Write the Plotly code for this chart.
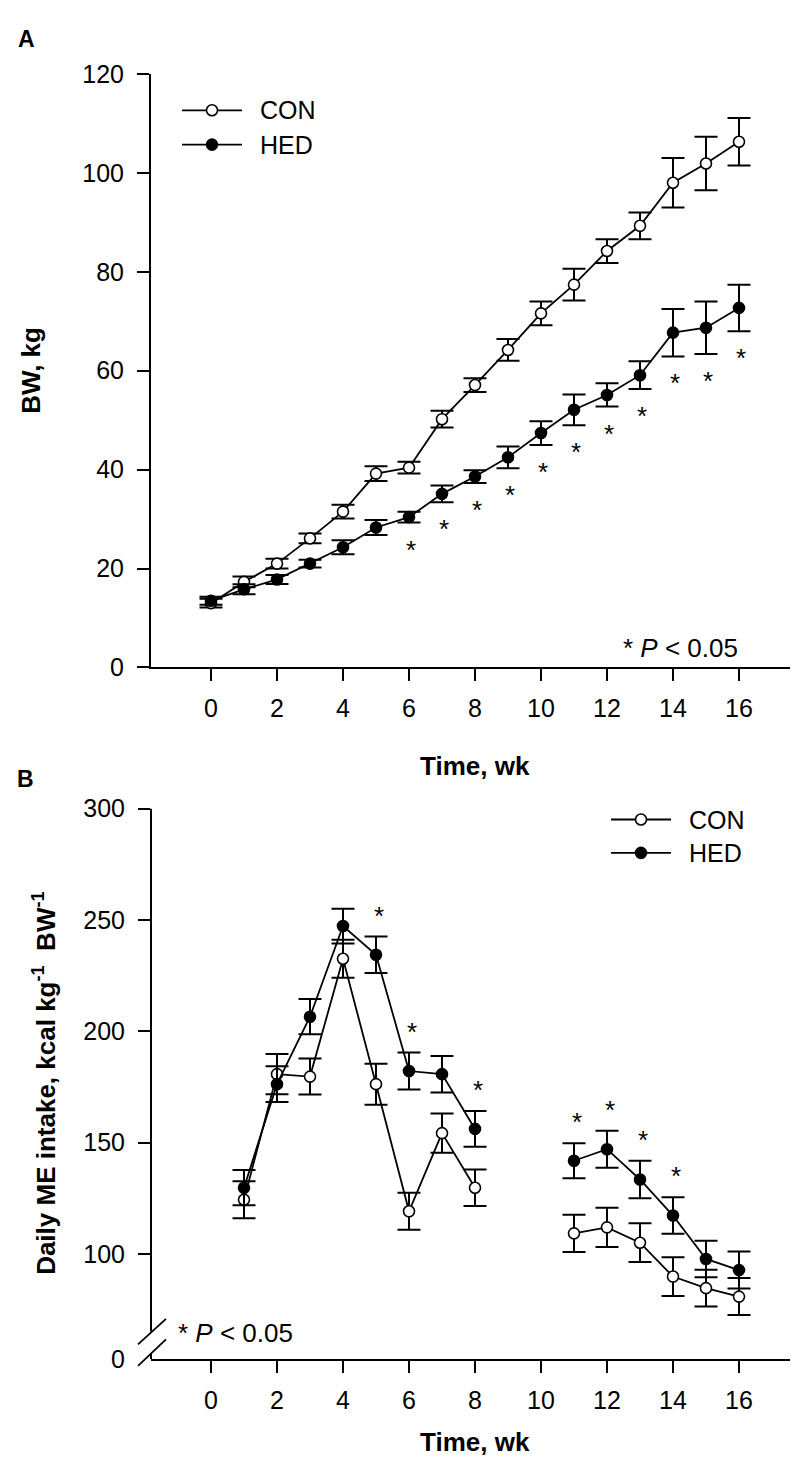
import plotly.graph_objects as go

W, H = 798, 1469
FONT = "Liberation Sans, Arial, sans-serif"

# ---------------- data: panel A (body weight, kg) ----------------
weeks_a = list(range(0, 17))
con_bw = [13.0, 17.3, 21.0, 26.1, 31.5, 39.2, 40.4, 50.2, 57.1, 64.2, 71.6, 77.4, 84.2, 89.3, 98.0, 101.9, 106.3]
con_bw_se = [0.9, 1.1, 1.0, 1.0, 1.4, 1.5, 1.2, 1.7, 1.4, 2.2, 2.4, 3.2, 2.4, 2.7, 5.0, 5.4, 4.8]
hed_bw = [13.5, 15.8, 17.8, 21.0, 24.3, 28.3, 30.4, 35.1, 38.6, 42.5, 47.4, 52.1, 55.1, 59.1, 67.7, 68.7, 72.7]
hed_bw_se = [0.8, 1.0, 0.9, 0.8, 1.4, 1.5, 1.1, 1.7, 1.3, 2.2, 2.4, 3.1, 2.35, 2.8, 4.8, 5.3, 4.7]
sig_weeks_a = [6, 7, 8, 9, 10, 11, 12, 13, 14, 15, 16]

# ---------------- data: panel B (daily ME intake) ----------------
weeks_b = list(range(1, 17))
con_me = [124.4, 180.8, 179.7, 232.6, 176.3, 119.2, 154.3, 129.8, None, None, 109.3, 112.0, 105.1, 89.9, 84.7, 80.9]
con_me_se = [8.3, 9.0, 8.1, 8.5, 9.2, 8.3, 8.8, 8.2, None, None, 8.4, 8.8, 8.7, 8.7, 8.3, 8.3]
hed_me = [129.8, 176.3, 206.6, 247.3, 234.4, 182.2, 180.8, 156.2, None, None, 141.9, 147.1, 133.5, 117.3, 97.8, 92.8]
hed_me_se = [7.9, 8.0, 7.9, 7.8, 8.2, 8.3, 8.2, 8.0, None, None, 7.9, 8.3, 8.4, 8.2, 8.2, 8.3]
sig_weeks_b = [5, 6, 8, 11, 12, 13, 14]

x_ticks = list(range(0, 17, 2))
y_ticks_a = list(range(0, 121, 20))
y_ticks_b = [100, 150, 200, 250, 300]


def px(v):
    return v / W


def py(v):
    return 1 - v / H


# pixel layout
X_L, X_R = 143, 791
WK0, WK_PX = 203, 33
A_TOP, A_BOT = 53, 658
B_TOP, B_BOT = 802, 1363
B_PX_PER_UNIT = (1256 - 802) / 200.0
B_YMIN = 100 - (B_BOT - 1256) / B_PX_PER_UNIT

x_range = [(X_L - WK0) / WK_PX, (X_R - WK0) / WK_PX]

fig = go.Figure()


def series(x, y, e, filled, xa, ya, name):
    fig.add_trace(go.Scatter(
        x=x, y=y, name=name, mode="lines+markers",
        xaxis=xa, yaxis=ya, connectgaps=False, showlegend=False,
        line=dict(color="black", width=1.8),
        marker=dict(symbol="circle", size=11,
                    color="black" if filled else "white",
                    line=dict(color="black", width=1.6)),
        error_y=dict(type="data", array=e, visible=True, color="black",
                     thickness=2, width=11.5),
    ))


series(weeks_a, con_bw, con_bw_se, False, "x", "y", "CON")
series(weeks_a, hed_bw, hed_bw_se, True, "x", "y", "HED")
series(weeks_b, con_me, con_me_se, False, "x2", "y2", "CON")
series(weeks_b, hed_me, hed_me_se, True, "x2", "y2", "HED")

axis_common = dict(
    showgrid=False, zeroline=False, ticks="outside", ticklen=12, tickwidth=2,
    tickcolor="black", linecolor="black", linewidth=2,
    tickfont=dict(family=FONT, size=25, color="black"),
)

fig.update_layout(
    width=W, height=H, margin=dict(l=0, r=0, t=0, b=0),
    paper_bgcolor="white", plot_bgcolor="white", showlegend=False,
    xaxis=dict(domain=[px(X_L), px(X_R)], range=x_range, tickvals=x_ticks,
               showline=True, anchor="y", ticklabelstandoff=6, **axis_common),
    yaxis=dict(domain=[py(A_BOT), py(A_TOP)], range=[0, 120], tickvals=y_ticks_a,
               showline=True, anchor="x", ticklabelstandoff=8, **axis_common),
    xaxis2=dict(domain=[px(X_L), px(X_R)], range=x_range, tickvals=x_ticks,
                showline=True, anchor="y2", ticklabelstandoff=6, **axis_common),
    yaxis2=dict(domain=[py(B_BOT), py(B_TOP)], range=[B_YMIN, 300], tickvals=y_ticks_b,
                showline=False, anchor="x2", ticklabelstandoff=8, **axis_common),
)

annotations = []
shapes = []


def text(x, y, t, size=25, bold=False, xanchor="center", angle=0):
    annotations.append(dict(
        x=px(x), y=py(y), xref="paper", yref="paper", text=t, showarrow=False,
        xanchor=xanchor, yanchor="middle", textangle=angle,
        font=dict(family=FONT, size=size, color="black",
                  weight="bold" if bold else "normal"),
    ))


# panel labels and axis titles
text(8, 17, "A", size=23, bold=True, xanchor="left")
text(7, 772, "B", size=23, bold=True, xanchor="left")
text(23, (A_TOP + A_BOT) / 2, "BW, kg", size=26, bold=True, angle=-90)
text(467, 758, "Time, wk", size=26, bold=True)
text(467, 1448, "Time, wk", size=26, bold=True)
text(37, (B_TOP + B_BOT) / 2, "Daily ME intake, kcal kg<sup>-1</sup>  BW<sup>-1</sup>",
     size=26, bold=True, angle=-90)
text(613, 638, "* <i>P</i> &lt; 0.05", size=26, xanchor="left")
text(168, 1336, "* <i>P</i> &lt; 0.05", size=26, xanchor="left")
text(119, B_BOT, "0", size=25, xanchor="right")


# manual legends
def legend(x0, y_con, y_hed):
    for yy, filled, lab in [(y_con, False, "CON"), (y_hed, True, "HED")]:
        shapes.append(dict(type="line", xref="paper", yref="paper",
                           x0=px(x0), x1=px(x0 + 60), y0=py(yy), y1=py(yy),
                           line=dict(color="black", width=1.8)))
        shapes.append(dict(type="circle", xref="paper", yref="paper",
                           xsizemode="pixel", ysizemode="pixel",
                           xanchor=px(x0 + 30), yanchor=py(yy),
                           x0=-5.5, x1=5.5, y0=-5.5, y1=5.5,
                           fillcolor="black" if filled else "white",
                           line=dict(color="black", width=1.6)))
        text(x0 + 76, yy, lab, size=25, xanchor="left")


legend(174, 90, 125)
legend(603, 813, 847)

# significance asterisks
for wk in sig_weeks_a:
    i = weeks_a.index(wk)
    annotations.append(dict(x=wk, y=hed_bw[i] - hed_bw_se[i], xref="x", yref="y",
                            text="*", showarrow=False, xshift=2, yshift=-27,
                            font=dict(family=FONT, size=26, color="black")))
for wk in sig_weeks_b:
    i = weeks_b.index(wk)
    annotations.append(dict(x=wk, y=hed_me[i] + hed_me_se[i], xref="x2", yref="y2",
                            text="*", showarrow=False, xshift=3, yshift=21,
                            font=dict(family=FONT, size=26, color="black")))

# panel B y axis line with break
shapes.append(dict(type="line", xref="paper", yref="paper", x0=px(X_L), x1=px(X_L),
                   y0=py(B_TOP), y1=py(1335), line=dict(color="black", width=2)))
shapes.append(dict(type="line", xref="paper", yref="paper", x0=px(X_L), x1=px(X_L),
                   y0=py(1357), y1=py(B_BOT), line=dict(color="black", width=2)))
shapes.append(dict(type="line", xref="paper", yref="paper", x0=px(130), x1=px(158),
                   y0=py(1348), y1=py(1322), line=dict(color="black", width=1.8)))
shapes.append(dict(type="line", xref="paper", yref="paper", x0=px(130), x1=px(158),
                   y0=py(1370), y1=py(1343), line=dict(color="black", width=1.8)))

fig.update_layout(annotations=annotations, shapes=shapes)
fig.write_html("out.html")
